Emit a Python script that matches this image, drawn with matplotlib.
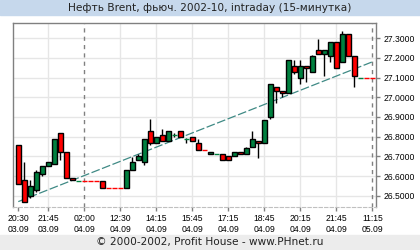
import numpy as np
import matplotlib
matplotlib.use("Agg")
import matplotlib.pyplot as plt

# 15-minute bars, Brent futures 2002-10
opens = [26.76, 26.58, 26.50, 26.53, 26.61, 26.65, 26.66, 26.82, 26.72, 26.59,
         26.575, 26.575, 26.575, 26.575, 26.575, 26.54, 26.54, 26.54, 26.54, 26.63,
         26.68, 26.67, 26.83, 26.77, 26.81, 26.78, 26.81, 26.83, 26.79, 26.80,
         26.77, 26.73, 26.71, 26.71, 26.71, 26.70, 26.70, 26.72, 26.71, 26.75,
         26.78, 26.77, 26.90, 27.05, 27.03, 27.02, 27.16, 27.10, 27.16, 27.13,
         27.24, 27.22, 27.21, 27.28, 27.18, 27.32, 27.21, 27.10, 27.10, 27.10]
highs = [26.76, 26.67, 26.58, 26.63, 26.65, 26.67, 26.79, 26.82, 26.72, 26.59,
         26.575, 26.575, 26.575, 26.575, 26.575, 26.54, 26.54, 26.54, 26.63, 26.695,
         26.71, 26.79, 26.89, 26.80, 26.84, 26.83, 26.82, 26.83, 26.795, 26.80,
         26.79, 26.73, 26.72, 26.71, 26.71, 26.70, 26.72, 26.72, 26.75, 26.83,
         26.78, 26.885, 27.07, 27.05, 27.03, 27.19, 27.19, 27.19, 27.16, 27.215,
         27.295, 27.24, 27.28, 27.28, 27.335, 27.32, 27.21, 27.10, 27.10, 27.10]
lows = [26.56, 26.47, 26.49, 26.52, 26.60, 26.65, 26.66, 26.68, 26.59, 26.58,
        26.575, 26.575, 26.575, 26.575, 26.54, 26.54, 26.54, 26.54, 26.54, 26.63,
        26.68, 26.655, 26.76, 26.77, 26.78, 26.78, 26.80, 26.80, 26.77, 26.78,
        26.73, 26.73, 26.71, 26.71, 26.68, 26.68, 26.70, 26.71, 26.71, 26.75,
        26.69, 26.77, 26.89, 26.97, 27.00, 27.02, 27.12, 27.07, 27.08, 27.13,
        27.22, 27.11, 27.18, 27.15, 27.18, 27.21, 27.05, 27.10, 27.10, 27.10]
closes = [26.56, 26.47, 26.55, 26.62, 26.65, 26.67, 26.79, 26.72, 26.59, 26.58,
          26.575, 26.575, 26.575, 26.575, 26.54, 26.54, 26.54, 26.54, 26.63, 26.67,
          26.70, 26.79, 26.77, 26.80, 26.78, 26.83, 26.81, 26.80, 26.79, 26.78,
          26.73, 26.73, 26.72, 26.71, 26.68, 26.68, 26.72, 26.71, 26.74, 26.79,
          26.77, 26.885, 27.07, 27.03, 27.02, 27.19, 27.13, 27.16, 27.15, 27.21,
          27.22, 27.24, 27.28, 27.15, 27.32, 27.21, 27.11, 27.10, 27.10, 27.10]
# bars without trades drawn as red dashes
red_flat = [11, 12, 13, 15, 16, 17, 31, 58, 59]

tick_idx = [0, 5, 11, 17, 23, 29, 35, 41, 47, 53, 59]
tick_labels = ["20:30\n03.09", "21:45\n03.09", "02:00\n04.09", "12:30\n04.09",
               "14:15\n04.09", "15:45\n04.09", "17:15\n04.09", "18:45\n04.09",
               "20:15\n04.09", "21:45\n04.09", "11:15\n05.09"]
day_breaks = [11, 59]

trend_x = [0, 59]
trend_y = [26.47, 27.18]

RED = "#ff0000"
GREEN = "#00803f"

fig = plt.figure(figsize=(4.2, 2.5), dpi=100)
fig.patch.set_facecolor("white")

# title and footer bands
fig.patches.append(plt.Rectangle((0, 1 - 15 / 250), 1, 15 / 250, transform=fig.transFigure,
                                 color="#c6d8ec", zorder=0))
fig.patches.append(plt.Rectangle((0, 0), 1, 15 / 250, transform=fig.transFigure,
                                 color="#ececec", zorder=0))
fig.text(0.5, 1 - 8 / 250, "Нефть Brent, фьюч. 2002-10, intraday (15-минутка)",
         ha="center", va="center", fontsize=7.6, color="#222222")
fig.text(0.5, 7.5 / 250, "© 2000-2002, Profit House - www.PHnet.ru",
         ha="center", va="center", fontsize=7.6, color="#222222")

ax = fig.add_axes([13.3 / 420, 1 - 207 / 250, (376.3 - 13.3) / 420, (207 - 23.3) / 250])

o = np.array(opens)
h = np.array(highs)
l = np.array(lows)
c = np.array(closes)
x = np.arange(len(o))

# grid
for yv in np.arange(26.5, 27.31, 0.1):
    ax.axhline(yv, color="#e6e6e6", lw=1, zorder=0)
for t in tick_idx[1:]:
    if t in day_breaks:
        ax.axvline(t, color="#808080", lw=1, ls=(0, (3, 3)), zorder=0)
    else:
        ax.axvline(t, color="#e6e6e6", lw=1, zorder=0)

# trend line
ax.plot(trend_x, trend_y, color="#3f8a85", lw=0.9, ls=(0, (7, 2)), zorder=1)

flat = (o == c) & (h == l)
body = ~flat & (o != c)
doji = ~flat & (o == c)

ax.vlines(x[~flat], l[~flat], h[~flat], color="black", lw=1, zorder=2)
up = body & (c > o)
dn = body & (c < o)
ax.bar(x[up], (c - o)[up], bottom=o[up], width=0.75, color=GREEN,
       edgecolor="black", linewidth=1, zorder=3)
ax.bar(x[dn], (o - c)[dn], bottom=c[dn], width=0.75, color=RED,
       edgecolor="black", linewidth=1, zorder=3)
ax.hlines(c[doji], x[doji] - 0.38, x[doji] + 0.38, color=GREEN, lw=1, zorder=4)

flat_idx = np.where(flat)[0]
for i in flat_idx:
    col = RED if i in red_flat else GREEN
    ax.hlines(c[i], i - 0.38, i + 0.38, color=col, lw=1, zorder=3)

ax.set_xlim(-0.83, 59.67)
ax.set_ylim(26.4426, 27.376)

for side in ["left", "top", "right"]:
    ax.spines[side].set_color("#808080")
    ax.spines[side].set_linewidth(1)
ax.spines["bottom"].set_color("#c0c0c0")
ax.spines["bottom"].set_linestyle((0, (3, 2)))

ax.yaxis.tick_right()
ax.set_yticks(np.arange(26.5, 27.31, 0.1))
ax.set_yticklabels([f"{v:.4f}" for v in np.arange(26.5, 27.31, 0.1)])
ax.set_xticks(tick_idx)
ax.set_xticklabels(tick_labels, linespacing=1.35)
ax.tick_params(axis="both", length=3, width=1, color="#808080", labelsize=6.2,
               labelcolor="black", pad=2)
for lab in ax.get_xticklabels() + ax.get_yticklabels():
    lab.set_fontfamily("Liberation Sans")

fig.savefig("out.png", dpi=100)
